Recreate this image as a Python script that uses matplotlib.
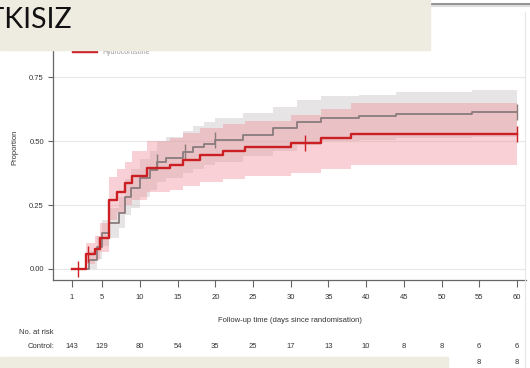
import numpy as np
import matplotlib
matplotlib.use("Agg")
import matplotlib.pyplot as plt
import matplotlib.transforms as mtransforms
from matplotlib.lines import Line2D
from matplotlib.patches import Rectangle

# Kaplan-Meier type curves (step times, proportion, CI)
ctrl_t = [1, 3.3, 4.3, 5.0, 5.9, 7.2, 8.0, 8.8, 10.0, 11.3, 12.3, 13.5, 15.7,
          17.0, 18.5, 20.0, 23.7, 27.7, 30.8, 34.0, 39.0, 44.0, 54.0]
ctrl_p = [0, 0.035, 0.085, 0.14, 0.18, 0.22, 0.28, 0.315, 0.355, 0.385, 0.42,
          0.435, 0.457, 0.475, 0.49, 0.505, 0.525, 0.55, 0.575, 0.59, 0.598,
          0.605, 0.612]
ctrl_lo = [0, 0.0, 0.04, 0.09, 0.12, 0.16, 0.21, 0.24, 0.28, 0.31, 0.34, 0.355,
           0.375, 0.39, 0.405, 0.42, 0.44, 0.46, 0.485, 0.50, 0.505, 0.51, 0.515]
ctrl_hi = [0, 0.07, 0.13, 0.19, 0.24, 0.28, 0.35, 0.39, 0.43, 0.46, 0.50, 0.515,
           0.54, 0.56, 0.575, 0.59, 0.61, 0.635, 0.66, 0.675, 0.68, 0.69, 0.70]

trt_t = [1, 2.9, 4.0, 4.7, 5.9, 7.0, 8.0, 9.0, 11.0, 14.0, 15.7, 18.0, 21.0,
         24.0, 30.0, 34.0, 38.0]
trt_p = [0, 0.06, 0.08, 0.12, 0.27, 0.30, 0.335, 0.365, 0.395, 0.405, 0.425,
         0.445, 0.46, 0.477, 0.492, 0.51, 0.527]
trt_lo = [0, 0.02, 0.035, 0.065, 0.19, 0.22, 0.25, 0.27, 0.30, 0.31, 0.325,
          0.34, 0.35, 0.365, 0.375, 0.39, 0.405]
trt_hi = [0, 0.10, 0.13, 0.18, 0.36, 0.39, 0.42, 0.46, 0.50, 0.51, 0.53, 0.55,
          0.565, 0.58, 0.60, 0.625, 0.65]

ctrl_cens = [12.3, 16.0, 20.0, 60]
trt_cens = [1.8, 3.1, 31.9, 60]

end_time = 60
xticks = [1, 5, 10, 15, 20, 25, 30, 35, 40, 45, 50, 55, 60]
yticks = [0.00, 0.25, 0.50, 0.75]
risk_ctrl = [143, 129, 80, 54, 35, 25, 17, 13, 10, 8, 8, 6, 6]
risk_trt = [139, 120, 73, 49, 34, 22, 15, 11, 9, 8, 8, 8, 8]

W, H = 530, 368
fig = plt.figure(figsize=(W / 100, H / 100), dpi=100)
ax = fig.add_axes([53 / W, 1 - 280 / H, 473 / W, 250 / H])

font = "Liberation Sans"
c_red = "#cc1f24"
c_gray = "#8a7c7c"


def ext(t, v):
    return np.append(t, end_time), np.append(v, v[-1])


def at(t, v, x):
    i = np.searchsorted(t, x, side="right") - 1
    return np.asarray(v)[i]


# confidence bands
for t, lo, hi, col, a in [(ctrl_t, ctrl_lo, ctrl_hi, "#c4c0c0", 0.42),
                          (trt_t, trt_lo, trt_hi, "#f0919b", 0.42)]:
    tt, l = ext(t, lo)
    _, h = ext(t, hi)
    ax.fill_between(tt, l, h, step="post", color=col, alpha=a, lw=0)

# curves
for t, p, cens, col, lw, lab in [(ctrl_t, ctrl_p, ctrl_cens, c_gray, 1.3, "Control"),
                                 (trt_t, trt_p, trt_cens, c_red, 1.7, "Hydrocortisone")]:
    tt, pp = ext(t, p)
    ax.step(tt, pp, where="post", color=col, lw=lw, label=lab)
    ax.plot(cens, at(tt, pp, cens), ls="none", marker="|", ms=12,
            mew=1.0, color=col)

ax.set_xlim(-1.52, 61.2)
ax.set_ylim(-0.043, 0.934)
ax.set_xticks(xticks)
ax.set_yticks(yticks)
ax.set_yticklabels(["%.2f" % v for v in yticks])
ax.grid(axis="y", color="#e8e8e8", lw=0.8)
ax.set_axisbelow(True)
for s in ["top", "right"]:
    ax.spines[s].set_visible(False)
for s in ["left", "bottom"]:
    ax.spines[s].set_color("#666666")
    ax.spines[s].set_linewidth(0.9)
ax.tick_params(axis="x", length=5, width=0.8, color="#666666", pad=5,
               labelsize=5.5, labelcolor="#333333")
ax.tick_params(axis="y", length=3.5, width=0.8, color="#666666", pad=3,
               labelsize=5.5, labelcolor="#333333")
for lbl in ax.get_xticklabels() + ax.get_yticklabels():
    lbl.set_family(font)

fig.text(15 / W, 1 - 147 / H, "Proportion", rotation=90, ha="center",
         va="center", fontsize=5.5, color="#333333", family=font)
fig.text(290 / W, 1 - 321 / H, "Follow-up time (days since randomisation)",
         ha="center", va="center", fontsize=5.5, color="#333333", family=font)

leg = ax.legend(loc="upper left", bbox_to_anchor=(70 / W, 1 - 35 / H),
                bbox_transform=fig.transFigure, frameon=False,
                handlelength=3.4, labelspacing=0.5, borderpad=0,
                prop={"family": font, "size": 5})
for txt in leg.get_texts():
    txt.set_color("#999999")

# numbers at risk
trans = mtransforms.blended_transform_factory(ax.transData, fig.transFigure)
fig.text(54 / W, 1 - 333 / H, "No. at risk", ha="right", va="center",
         fontsize=5.5, color="#333333", family=font)
fig.text(54 / W, 1 - 347 / H, "Control:", ha="right", va="center",
         fontsize=5.5, color="#333333", family=font)
fig.text(54 / W, 1 - 362 / H, "Hydrocortisone:", ha="right", va="center",
         fontsize=5.5, color="#333333", family=font)
for x, a, b in zip(xticks, risk_ctrl, risk_trt):
    ax.text(x, 1 - 347 / H, str(a), transform=trans, ha="center", va="center",
            fontsize=5.5, color="#333333", family=font)
    ax.text(x, 1 - 362 / H, str(b), transform=trans, ha="center", va="center",
            fontsize=5.5, color="#333333", family=font)

# slide frame pieces and overlay boxes
fig.add_artist(Line2D([525 / W, 525 / W], [0, 1 - 12 / H], color="#e6e6e6",
                      lw=0.8, transform=fig.transFigure))
fig.add_artist(Line2D([430 / W, 1], [1 - 5.5 / H, 1 - 5.5 / H], color="#dddddd",
                      lw=1.5, transform=fig.transFigure))
fig.add_artist(Line2D([430 / W, 1], [1 - 3.5 / H, 1 - 3.5 / H], color="#8a8a8a",
                      lw=1.3, transform=fig.transFigure))
fig.add_artist(Rectangle((0, 1 - 50 / H), 430 / W, 50 / H, color="#eeebe0",
                         transform=fig.transFigure, zorder=10))
fig.add_artist(Rectangle((0, 0), 448 / W, 11 / H, color="#eeebe0",
                         transform=fig.transFigure, zorder=10))
fig.text(72 / W, 1 - 28 / H, "ETKISIZ", ha="right", va="baseline",
         fontsize=20.5, color="#111111", family="Lato", zorder=11)

fig.savefig("out.png", dpi=100)
